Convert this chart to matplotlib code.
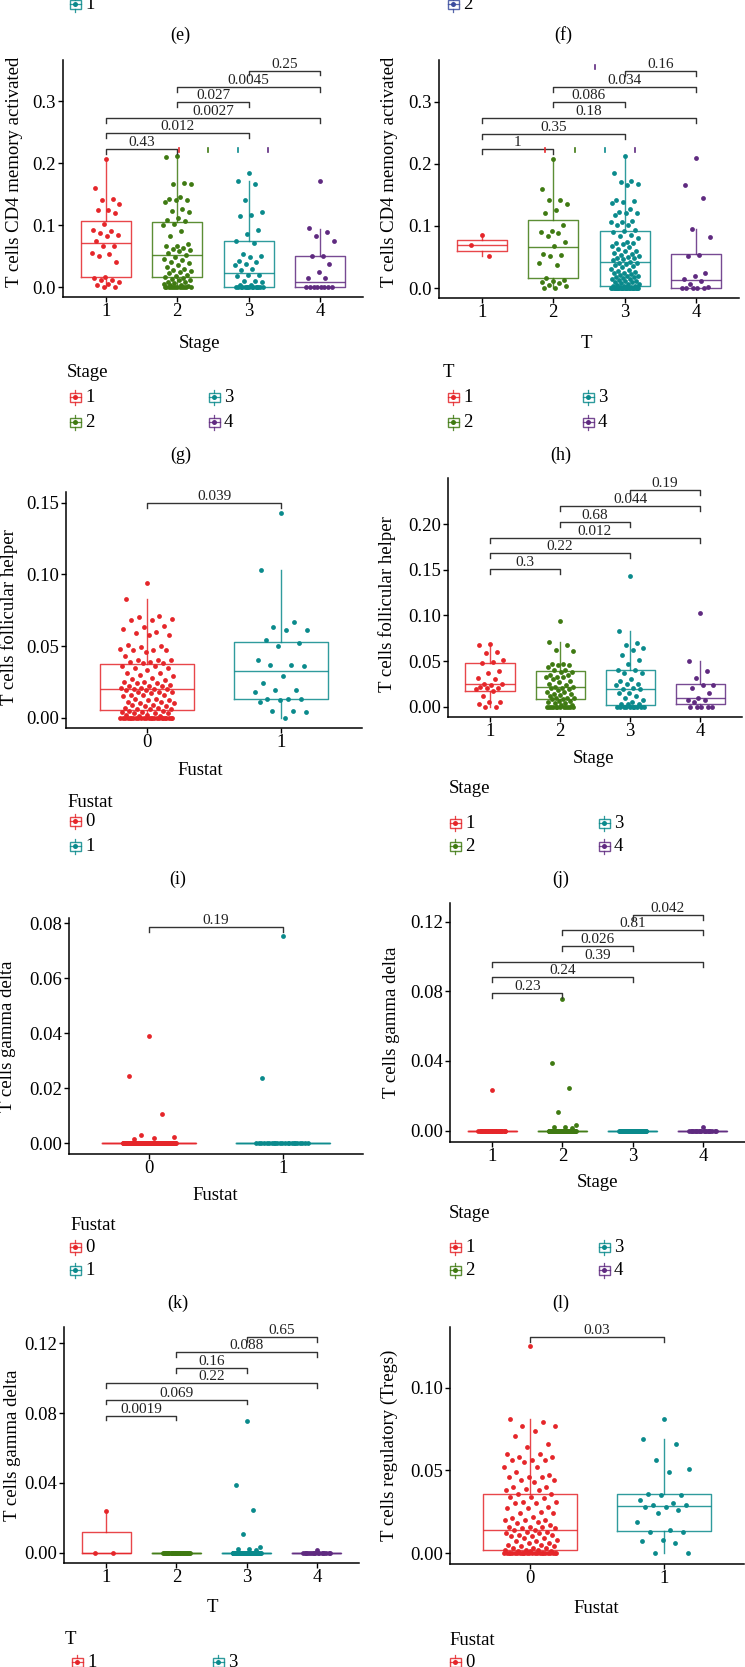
import matplotlib
matplotlib.use("Agg")
import matplotlib.pyplot as plt
from matplotlib.patches import Rectangle
from matplotlib.ticker import FormatStrFormatter

W, H = 745, 1667

RED = "#E5262A"
GREEN = "#3F7A12"
TEAL = "#0A8A8C"
PURPLE = "#5F2A80"
BLUE = "#3B4C9E"
stage_colors = [RED, GREEN, TEAL, PURPLE]
fustat_colors = [RED, TEAL]

stage_cats = ["1", "2", "3", "4"]
fustat_cats = ["0", "1"]

# ---- (g) CD4 memory activated by Stage ----
cd4_stage1 = [0.207, 0.160, 0.142, 0.141, 0.135, 0.125, 0.124, 0.119, 0.102, 0.092, 0.090, 0.088,
              0.085, 0.083, 0.074, 0.067, 0.066, 0.055, 0.053, 0.050, 0.041, 0.016, 0.015, 0.012,
              0.011, 0.008, 0.005, 0.003, 0.0, 0.0]
cd4_stage2 = [0.212, 0.210, 0.168, 0.167, 0.166, 0.145, 0.142, 0.141, 0.140, 0.137, 0.127, 0.123,
              0.122, 0.111, 0.108, 0.107, 0.102, 0.101, 0.090, 0.082, 0.070, 0.067, 0.066, 0.063,
              0.062, 0.060, 0.058, 0.055, 0.052, 0.048, 0.046, 0.044, 0.040, 0.039, 0.035, 0.033,
              0.030, 0.027, 0.026, 0.024, 0.022, 0.020, 0.018, 0.016, 0.015, 0.013, 0.012, 0.011,
              0.009, 0.008, 0.006, 0.005, 0.004, 0.003, 0.002, 0.0, 0.0, 0.0, 0.0, 0.0, 0.0, 0.0,
              0.0, 0.0, 0.0, 0.0, 0.0]
cd4_stage3 = [0.185, 0.172, 0.167, 0.141, 0.122, 0.117, 0.115, 0.093, 0.086, 0.074, 0.072, 0.053,
              0.050, 0.048, 0.042, 0.041, 0.037, 0.036, 0.030, 0.027, 0.020, 0.019, 0.018, 0.010,
              0.010, 0.009, 0.004, 0.003, 0.0, 0.0, 0.0, 0.0, 0.0, 0.0, 0.0, 0.0, 0.0, 0.0, 0.0,
              0.0, 0.0, 0.0, 0.0]
cd4_stage4 = [0.171, 0.095, 0.089, 0.082, 0.075, 0.051, 0.050, 0.037, 0.025, 0.015, 0.014,
              0.0, 0.0, 0.0, 0.0, 0.0, 0.0, 0.0, 0.0]
cd4_stage_q1 = [0.0156, 0.0156, 0.0, 0.0]
cd4_stage_med = [0.0718, 0.0513, 0.0232, 0.0081]
cd4_stage_q3 = [0.1063, 0.1058, 0.0739, 0.0507]
cd4_stage_hi = [0.2067, 0.2137, 0.1716, 0.0944]
cd4_stage_lo = [0.0, 0.0, 0.0, 0.0]
cd4_stage_p = ["0.43", "0.012", "0.0027", "0.027", "0.0045", "0.25"]

# ---- (h) CD4 memory activated by T ----
cd4_t1 = [0.085, 0.069, 0.051]
cd4_t2 = [0.207, 0.160, 0.142, 0.141, 0.135, 0.125, 0.120, 0.102, 0.092, 0.090, 0.089, 0.084,
          0.074, 0.067, 0.055, 0.054, 0.052, 0.041, 0.037, 0.016, 0.013, 0.012, 0.010, 0.008,
          0.005, 0.003, 0.0, 0.0]
cd4_t3 = [0.212, 0.185, 0.172, 0.170, 0.167, 0.166, 0.141, 0.140, 0.139, 0.137, 0.127, 0.122,
          0.121, 0.120, 0.118, 0.108, 0.107, 0.106, 0.102, 0.101, 0.093, 0.092, 0.090, 0.085,
          0.084, 0.081, 0.074, 0.073, 0.072, 0.071, 0.067, 0.066, 0.063, 0.060, 0.059, 0.056,
          0.055, 0.053, 0.052, 0.050, 0.049, 0.048, 0.047, 0.045, 0.042, 0.041, 0.040, 0.039,
          0.037, 0.036, 0.034, 0.030, 0.029, 0.027, 0.026, 0.025, 0.024, 0.022, 0.021, 0.020,
          0.019, 0.018, 0.017, 0.016, 0.015, 0.014, 0.013, 0.012, 0.011, 0.010, 0.009, 0.008,
          0.007, 0.006, 0.005, 0.004, 0.003, 0.003, 0.002, 0.002, 0.001, 0.001,
          0.0, 0.0, 0.0, 0.0, 0.0, 0.0, 0.0, 0.0, 0.0, 0.0, 0.0, 0.0, 0.0, 0.0, 0.0, 0.0,
          0.0, 0.0, 0.0, 0.0, 0.0, 0.0]
cd4_t4 = [0.210, 0.166, 0.145, 0.095, 0.082, 0.054, 0.051, 0.025, 0.019, 0.015, 0.012, 0.007,
          0.002, 0.0, 0.0, 0.0, 0.0, 0.0]
cd4_t_q1 = [0.0604, 0.0156, 0.0032, 0.0]
cd4_t_med = [0.0696, 0.0664, 0.0416, 0.0135]
cd4_t_q3 = [0.0777, 0.110, 0.0923, 0.055]
cd4_t_hi = [0.0863, 0.2067, 0.212, 0.095]
cd4_t_lo = [0.051, 0.0, 0.0, 0.0]
cd4_t_p = ["1", "0.35", "0.18", "0.086", "0.034", "0.16"]

# ---- (i) T follicular helper by Fustat ----
tfh_fustat0 = [0.094, 0.083, 0.071, 0.070, 0.069, 0.068, 0.068, 0.064, 0.063, 0.062, 0.060, 0.059,
               0.058, 0.058, 0.051, 0.050, 0.049, 0.048, 0.047, 0.047, 0.047, 0.046, 0.043, 0.040,
               0.040, 0.040, 0.039, 0.039, 0.038, 0.038, 0.036, 0.036, 0.035, 0.035, 0.033, 0.031,
               0.031, 0.030, 0.029, 0.028, 0.027, 0.026, 0.025, 0.025, 0.024, 0.024, 0.023, 0.022,
               0.022, 0.022, 0.021, 0.021, 0.020, 0.020, 0.020, 0.019, 0.019, 0.018, 0.018, 0.018,
               0.017, 0.016, 0.016, 0.016, 0.015, 0.013, 0.013, 0.012, 0.012, 0.011, 0.011, 0.010,
               0.010, 0.009, 0.009, 0.008, 0.008, 0.007, 0.007, 0.006, 0.006, 0.006, 0.005, 0.005,
               0.004, 0.004, 0.003, 0.003, 0.003, 0.002, 0.002, 0.001, 0.001,
               0.0, 0.0, 0.0, 0.0, 0.0, 0.0, 0.0, 0.0, 0.0, 0.0, 0.0, 0.0, 0.0, 0.0, 0.0, 0.0,
               0.0, 0.0, 0.0, 0.0, 0.0, 0.0, 0.0, 0.0, 0.0]
tfh_fustat1 = [0.143, 0.103, 0.067, 0.063, 0.061, 0.061, 0.054, 0.052, 0.050, 0.040, 0.037, 0.037,
               0.036, 0.029, 0.024, 0.019, 0.019, 0.018, 0.013, 0.013, 0.013, 0.012, 0.011, 0.005,
               0.005, 0.004, 0.0]
tfh_fustat_q1 = [0.0051, 0.0128]
tfh_fustat_med = [0.0198, 0.0326]
tfh_fustat_q3 = [0.0377, 0.053]
tfh_fustat_hi = [0.0828, 0.103]
tfh_fustat_lo = [0.0, 0.0]
tfh_fustat_p = ["0.039"]

# ---- (j) T follicular helper by Stage ----
tfh_stage1 = [0.069, 0.068, 0.060, 0.059, 0.051, 0.049, 0.048, 0.039, 0.037, 0.031, 0.030, 0.025,
              0.025, 0.024, 0.022, 0.020, 0.020, 0.019, 0.017, 0.012, 0.005, 0.005, 0.003, 0.0, 0.0]
tfh_stage2 = [0.094, 0.071, 0.068, 0.062, 0.061, 0.047, 0.047, 0.046, 0.046, 0.043, 0.040, 0.040,
              0.038, 0.038, 0.035, 0.035, 0.033, 0.032, 0.032, 0.030, 0.028, 0.027, 0.025, 0.024,
              0.022, 0.022, 0.020, 0.020, 0.019, 0.018, 0.016, 0.016, 0.014, 0.014, 0.013, 0.012,
              0.010, 0.010, 0.009, 0.008, 0.008, 0.006, 0.006, 0.005, 0.004, 0.004, 0.002, 0.002,
              0.0, 0.0, 0.0, 0.0, 0.0, 0.0, 0.0, 0.0, 0.0, 0.0, 0.0, 0.0]
tfh_stage3 = [0.143, 0.083, 0.070, 0.068, 0.064, 0.062, 0.057, 0.051, 0.047, 0.040, 0.040, 0.037,
              0.037, 0.030, 0.028, 0.025, 0.025, 0.024, 0.021, 0.019, 0.019, 0.015, 0.015, 0.012,
              0.010, 0.007, 0.005, 0.003, 0.003, 0.003, 0.0, 0.0, 0.0, 0.0, 0.0, 0.0, 0.0, 0.0,
              0.0, 0.0]
tfh_stage4 = [0.103, 0.050, 0.039, 0.031, 0.024, 0.024, 0.020, 0.015, 0.010, 0.007, 0.007, 0.005,
              0.0, 0.0, 0.0, 0.0, 0.0]
tfh_stage_q1 = [0.0168, 0.0084, 0.0018, 0.0026]
tfh_stage_med = [0.0252, 0.0215, 0.019, 0.0095]
tfh_stage_q3 = [0.0482, 0.0394, 0.0398, 0.0245]
tfh_stage_hi = [0.0686, 0.0704, 0.0832, 0.0496]
tfh_stage_lo = [0.0, 0.0, 0.0, 0.0]
tfh_stage_p = ["0.3", "0.22", "0.012", "0.68", "0.044", "0.19"]

# ---- (k) gamma delta by Fustat ----
gd_fustat0 = [0.039, 0.0245, 0.0105, 0.003, 0.0023, 0.002, 0.0015] + [0.0] * 140
gd_fustat1 = [0.0755, 0.0237] + [0.0] * 23
gd_fustat_zero = [0.0, 0.0]
gd_fustat_p = ["0.19"]

# ---- (l) gamma delta by Stage ----
gd_stage1 = [0.0235] + [0.0] * 29
gd_stage2 = [0.0755, 0.039, 0.0245, 0.0105, 0.003, 0.002, 0.002, 0.0015] + [0.0] * 60
gd_stage3 = [0.0] * 45
gd_stage4 = [0.002] + [0.0] * 19
gd_stage_zero = [0.0, 0.0, 0.0, 0.0]
gd_stage_p = ["0.23", "0.24", "0.39", "0.026", "0.81", "0.042"]

# ---- (m) gamma delta by T ----
gd_t1 = [0.0237, 0.0, 0.0]
gd_t2 = [0.0] * 30
gd_t3 = [0.0755, 0.039, 0.0245, 0.0105, 0.003, 0.0023, 0.002, 0.0015] + [0.0] * 100
gd_t4 = [0.0015] + [0.0] * 17
gd_t_q3 = [0.0117, 0.0, 0.0, 0.0]
gd_t_hi = [0.0237, 0.0, 0.0, 0.0]
gd_t_p = ["0.0019", "0.069", "0.22", "0.16", "0.088", "0.65"]

# ---- (n) Tregs by Fustat ----
treg_fustat0 = [0.125, 0.081, 0.079, 0.077, 0.077, 0.074, 0.071, 0.066, 0.064, 0.060, 0.060, 0.058,
                0.058, 0.056, 0.056, 0.056, 0.055, 0.052, 0.052, 0.049, 0.047, 0.046, 0.046, 0.046,
                0.044, 0.044, 0.043, 0.040, 0.040, 0.039, 0.038, 0.038, 0.036, 0.036, 0.034, 0.034,
                0.033, 0.031, 0.031, 0.030, 0.030, 0.028, 0.027, 0.027, 0.025, 0.024, 0.024, 0.022,
                0.021, 0.020, 0.020, 0.020, 0.019, 0.018, 0.017, 0.016, 0.016, 0.016, 0.015, 0.015,
                0.014, 0.014, 0.013, 0.013, 0.012, 0.012, 0.011, 0.011, 0.010, 0.010, 0.009, 0.009,
                0.008, 0.007, 0.007, 0.006, 0.006, 0.005, 0.005, 0.004, 0.004, 0.003, 0.003, 0.003,
                0.002, 0.002, 0.002, 0.001, 0.001, 0.001,
                0.0, 0.0, 0.0, 0.0, 0.0, 0.0, 0.0, 0.0, 0.0, 0.0, 0.0, 0.0, 0.0, 0.0, 0.0, 0.0,
                0.0, 0.0, 0.0, 0.0, 0.0, 0.0, 0.0, 0.0, 0.0]
treg_fustat1 = [0.081, 0.069, 0.066, 0.056, 0.051, 0.049, 0.036, 0.035, 0.035, 0.032, 0.030, 0.029,
                0.029, 0.028, 0.028, 0.026, 0.024, 0.019, 0.014, 0.013, 0.013, 0.008, 0.007, 0.006,
                0.0, 0.0]
treg_fustat_q1 = [0.002, 0.0133]
treg_fustat_med = [0.0137, 0.0284]
treg_fustat_q3 = [0.0355, 0.0359]
treg_fustat_hi = [0.0813, 0.069]
treg_fustat_lo = [0.0, 0.0]
treg_fustat_p = ["0.03"]

four_pairs = [(1, 2), (1, 3), (1, 4), (2, 3), (2, 4), (3, 4)]
two_pairs = [(0, 1)]

plt.rcParams["font.family"] = ["Liberation Serif", "DejaVu Serif"]
fig = plt.figure(figsize=(W / 100, H / 100), dpi=100)
fig.patch.set_facecolor("white")

FS = 13.5      # ticks, titles, legends
FS_Y = 13.5    # y titles
FS_P = 11      # p-values


def jitter(n, width=0.2):
    return [((k * 0.6180339887 + 0.5) % 1.0 - 0.5) * 2 * width for k in range(n)]


def panel(box, xlim, ylim, yticks, fmt):
    l, t, r, b = box
    ax = fig.add_axes([l / W, 1 - b / H, (r - l) / W, (b - t) / H])
    ax.set_xlim(*xlim)
    ax.set_ylim(*ylim)
    ax.set_yticks(yticks)
    ax.yaxis.set_major_formatter(FormatStrFormatter(fmt))
    ax.spines[["top", "right"]].set_visible(False)
    for s in ("left", "bottom"):
        ax.spines[s].set_linewidth(1.1)
    ax.tick_params(axis="both", labelsize=FS, length=3.6, width=1.0)
    ax.tick_params(axis="y", pad=1.5)
    ax.tick_params(axis="x", pad=0.5)
    ax.patch.set_alpha(0)
    return ax


def draw(ax, groups, pos, cats, colors, q1, med, q3, hi, lo, pairs, pvals, levels):
    stats = [dict(q1=a, med=m, q3=c, whislo=w0, whishi=w1, fliers=[])
             for a, m, c, w0, w1 in zip(q1, med, q3, lo, hi)]
    art = ax.bxp(stats, positions=pos, widths=0.7, showfliers=False, showcaps=False,
                 manage_ticks=False)
    for k, c in enumerate(colors):
        art["boxes"][k].set(color=c, lw=1.0, alpha=0.85)
        art["medians"][k].set(color=c, lw=1.0, alpha=0.85)
        for w in art["whiskers"][2 * k:2 * k + 2]:
            w.set(color=c, lw=1.0, alpha=0.85)
    for p, vals, c in zip(pos, groups, colors):
        xs = [p + d for d in jitter(len(vals))]
        ax.scatter(xs, vals, s=12, color=c, linewidths=0, zorder=3)
    ax.set_xticks(pos)
    ax.set_xticklabels(cats)
    y0, y1 = ax.get_ylim()
    tick = 0.021 * (y1 - y0)
    for (a, b), lab, lev in zip(pairs, pvals, levels):
        ax.plot([a, a, b, b], [lev - tick, lev, lev, lev - tick], color="#333333", lw=1.0,
                clip_on=False, zorder=4)
        ax.text((a + b) / 2, lev, lab, ha="center", va="bottom", fontsize=FS_P, color="#222222")


def dashes(ax, xs, y, colors, h):
    for x, c in zip(xs, colors):
        ax.plot([x, x], [y - h, y + h * 0.4], color=c, lw=1.2, zorder=4)


# (g)
ax = panel((63, 60, 363, 297), (0.4, 4.6), (-0.016, 0.367), [0, 0.1, 0.2, 0.3], "%.1f")
draw(ax, [cd4_stage1, cd4_stage2, cd4_stage3, cd4_stage4], [1, 2, 3, 4], stage_cats, stage_colors,
     cd4_stage_q1, cd4_stage_med, cd4_stage_q3, cd4_stage_hi, cd4_stage_lo,
     four_pairs, cd4_stage_p, [0.2233, 0.2487, 0.273, 0.2988, 0.324, 0.350])
dashes(ax, [2.03, 2.43, 2.85, 3.27], 0.2233, stage_colors, 0.005)

# (h)
ax = panel((439, 60, 739, 298), (0.4, 4.6), (-0.016, 0.367), [0, 0.1, 0.2, 0.3], "%.1f")
draw(ax, [cd4_t1, cd4_t2, cd4_t3, cd4_t4], [1, 2, 3, 4], stage_cats, stage_colors,
     cd4_t_q1, cd4_t_med, cd4_t_q3, cd4_t_hi, cd4_t_lo,
     four_pairs, cd4_t_p, [0.2233, 0.2487, 0.273, 0.2988, 0.324, 0.350])
dashes(ax, [1.88, 2.30, 2.73, 3.15], 0.2233, stage_colors, 0.005)
dashes(ax, [2.58], 0.357, [PURPLE], 0.005)

# (i)
ax = panel((66, 492, 362, 728), (-0.6, 1.6), (-0.0072, 0.1575), [0, 0.05, 0.10, 0.15], "%.2f")
draw(ax, [tfh_fustat0, tfh_fustat1], [0, 1], fustat_cats, fustat_colors,
     tfh_fustat_q1, tfh_fustat_med, tfh_fustat_q3, tfh_fustat_hi, tfh_fustat_lo,
     two_pairs, tfh_fustat_p, [0.150])

# (j)
ax = panel((448, 478, 742, 717), (0.4, 4.6), (-0.0113, 0.2504), [0, 0.05, 0.10, 0.15, 0.20], "%.2f")
draw(ax, [tfh_stage1, tfh_stage2, tfh_stage3, tfh_stage4], [1, 2, 3, 4], stage_cats, stage_colors,
     tfh_stage_q1, tfh_stage_med, tfh_stage_q3, tfh_stage_hi, tfh_stage_lo,
     four_pairs, tfh_stage_p, [0.151, 0.168, 0.185, 0.202, 0.220, 0.237])

# (k)
ax = panel((69, 918, 363, 1154), (-0.6, 1.6), (-0.0039, 0.082), [0, 0.02, 0.04, 0.06, 0.08], "%.2f")
draw(ax, [gd_fustat0, gd_fustat1], [0, 1], fustat_cats, fustat_colors,
     gd_fustat_zero, gd_fustat_zero, gd_fustat_zero, gd_fustat_zero, gd_fustat_zero,
     two_pairs, gd_fustat_p, [0.0786])

# (l)
ax = panel((450, 903, 745, 1142), (0.4, 4.6), (-0.00655, 0.1308), [0, 0.04, 0.08, 0.12], "%.2f")
draw(ax, [gd_stage1, gd_stage2, gd_stage3, gd_stage4], [1, 2, 3, 4], stage_cats, stage_colors,
     gd_stage_zero, gd_stage_zero, gd_stage_zero, gd_stage_zero, gd_stage_zero,
     four_pairs, gd_stage_p, [0.0792, 0.088, 0.097, 0.106, 0.1152, 0.1239])

# (m)
ax = panel((64, 1327, 359, 1563), (0.4, 4.6), (-0.006, 0.1294), [0, 0.04, 0.08, 0.12], "%.2f")
draw(ax, [gd_t1, gd_t2, gd_t3, gd_t4], [1, 2, 3, 4], stage_cats, stage_colors,
     gd_stage_zero, gd_stage_zero, gd_t_q3, gd_t_hi, gd_stage_zero,
     four_pairs, gd_t_p, [0.0786, 0.0878, 0.097, 0.1058, 0.1148, 0.1236])

# (n)
ax = panel((450, 1327, 744, 1564), (-0.6, 1.6), (-0.00665, 0.1368), [0, 0.05, 0.10], "%.2f")
draw(ax, [treg_fustat0, treg_fustat1], [0, 1], fustat_cats, fustat_colors,
     treg_fustat_q1, treg_fustat_med, treg_fustat_q3, treg_fustat_hi, treg_fustat_lo,
     two_pairs, treg_fustat_p, [0.1308])

# overlay in pixel coordinates for titles, legends and panel letters
ov = fig.add_axes([0, 0, 1, 1])
ov.set_xlim(0, W)
ov.set_ylim(H, 0)
ov.axis("off")
ov.patch.set_alpha(0)


def key(x, y, c, label):
    ov.add_patch(Rectangle((x - 5.5, y - 4.5), 11, 9, fill=False, ec=c, lw=1.0, alpha=0.85))
    ov.plot([x - 5.5, x + 5.5], [y, y], color=c, lw=0.9, alpha=0.85)
    ov.plot([x, x], [y - 7.5, y - 4.5], color=c, lw=0.9, alpha=0.85)
    ov.plot([x, x], [y + 4.5, y + 7.5], color=c, lw=0.9, alpha=0.85)
    ov.plot([x], [y], "o", ms=3.6, color=c, mew=0)
    ov.text(x + 10, y, label, ha="left", va="center", fontsize=FS)


def legend4(title, tx, ty, x1, x2, r1, r2):
    ov.text(tx, ty, title, ha="left", va="center", fontsize=FS)
    key(x1, r1, stage_colors[0], "1")
    key(x1, r2, stage_colors[1], "2")
    key(x2, r1, stage_colors[2], "3")
    key(x2, r2, stage_colors[3], "4")


def legend2(title, tx, ty, x1, r1, r2):
    ov.text(tx, ty, title, ha="left", va="center", fontsize=FS)
    key(x1, r1, fustat_colors[0], "0")
    key(x1, r2, fustat_colors[1], "1")


# fragments of the panels above
key(75, 4, TEAL, "1")
key(453, 4, BLUE, "2")

# panel letters
for s, x, y in [("(e)", 180, 35), ("(f)", 563, 35), ("(g)", 181, 455), ("(h)", 561, 455),
                ("(i)", 178, 879), ("(j)", 561, 879), ("(k)", 178, 1303), ("(l)", 561, 1303)]:
    ov.text(x, y, s, ha="center", va="center", fontsize=13)

# axis titles
for s, x, y in [("Stage", 200, 343), ("T", 586, 343), ("Fustat", 200, 770), ("Stage", 594, 758),
                ("Fustat", 215, 1195), ("Stage", 597, 1182), ("T", 212, 1607),
                ("Fustat", 596, 1608)]:
    ov.text(x, y, s, ha="center", va="center", fontsize=FS)
for s, x, y in [("T cells CD4 memory activated", 15, 172), ("T cells CD4 memory activated", 390, 172),
                ("T cells follicular helper", 9, 617), ("T cells follicular helper", 387, 604),
                ("T cells gamma delta", 8, 1036), ("T cells gamma delta", 391, 1022),
                ("T cells gamma delta", 13, 1445), ("T cells regulatory (Tregs)", 389, 1445)]:
    ov.text(x, y, s, ha="center", va="center", rotation=90, fontsize=FS_Y)

# legends
legend4("Stage", 67, 372, 75, 214, 397, 422)
legend4("T", 443, 372, 453, 588, 397, 422)
legend2("Fustat", 67, 802, 75, 821, 846)
legend4("Stage", 449, 788, 455, 604, 823, 846)
legend2("Fustat", 70, 1225, 75, 1247, 1270)
legend4("Stage", 449, 1213, 455, 604, 1247, 1270)
ov.text(65, 1639, "T", ha="left", va="center", fontsize=FS)
key(77, 1662, RED, "1")
key(218, 1662, TEAL, "3")
ov.text(449, 1640, "Fustat", ha="left", va="center", fontsize=FS)
key(455, 1662, RED, "0")

fig.savefig("out.png", dpi=100, facecolor="white")
